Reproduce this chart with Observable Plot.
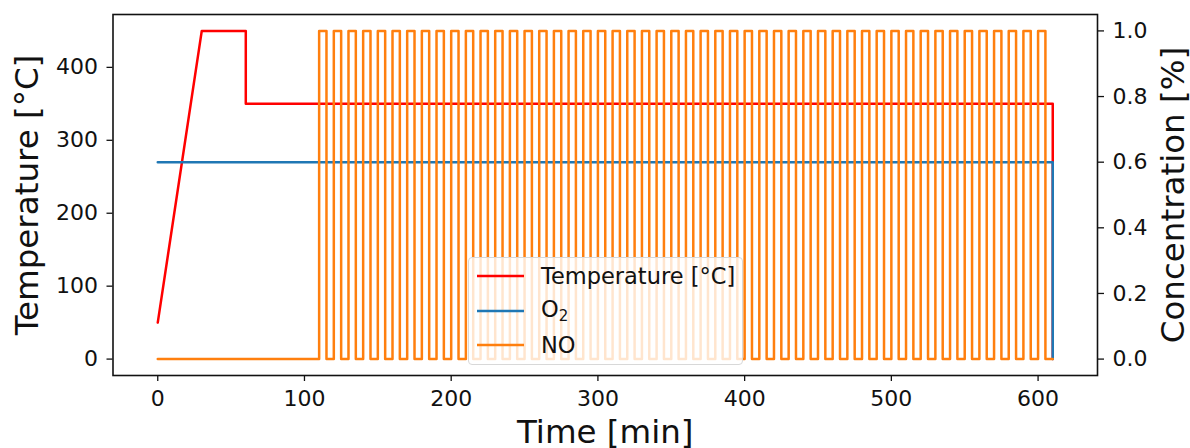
<!DOCTYPE html>
<html>
<head>
<meta charset="utf-8">
<script src="https://cdn.jsdelivr.net/npm/d3@7"></script>
<script src="https://cdn.jsdelivr.net/npm/@observablehq/plot@0.6"></script>
<style>
  html, body { margin: 0; padding: 0; background: white; }
  #wrap { position: relative; width: 1190px; height: 448px; overflow: hidden; font-family: "DejaVu Sans", sans-serif; }
  #legend { position: absolute; left: 468px; top: 257px; width: 275px; height: 108px; box-sizing: border-box;
    background: rgba(255,255,255,0.8); border: 1px solid #d8d8d8; border-radius: 4px; }
  .row { position: absolute; left: 0; height: 30px; display: flex; align-items: center; font-size: 22.5px; color: #111; white-space: nowrap; }
  .row svg { margin-left: 8px; margin-right: 17px; }
</style>
</head>
<body>
<div id="wrap"></div>
<script>
// ---- data ----
const tempTime  = [0, 30, 60, 60, 610, 610];
const tempValue = [50, 450, 450, 350, 350, 0];

const o2Time  = [0, 610, 610];
const o2Value = [0.6, 0.6, 0];

const noStartTime = 0;
const noEndTime = 610;
const noOnTimes  = [110,120,130,140,150,160,170,180,190,200,210,220,230,240,250,260,270,280,290,300,310,320,330,340,350,360,370,380,390,400,410,420,430,440,450,460,470,480,490,500,510,520,530,540,550,560,570,580,590,600];
const noOffTimes = [115,125,135,145,155,165,175,185,195,205,215,225,235,245,255,265,275,285,295,305,315,325,335,345,355,365,375,385,395,405,415,425,435,445,455,465,475,485,495,505,515,525,535,545,555,565,575,585,595,605];
const noHigh = 1;
const noLow = 0;

const xTicks = [0, 100, 200, 300, 400, 500, 600];
const tempTicks = [0, 100, 200, 300, 400];
const concTicks = [0, 0.2, 0.4, 0.6, 0.8, 1.0];

const labels = { x: "Time [min]", yLeft: "Temperature [°C]", yRight: "Concentration [%]" };

// ---- build tables ----
const tempData = tempTime.map((t, i) => ({t, v: tempValue[i]}));
const o2Data = o2Time.map((t, i) => ({t, v: o2Value[i]}));
const noData = [{t: noStartTime, v: noLow}];
noOnTimes.forEach((on, i) => {
  const off = noOffTimes[i];
  noData.push({t: on, v: noLow}, {t: on, v: noHigh}, {t: off, v: noHigh}, {t: off, v: noLow});
});
noData.push({t: noEndTime, v: noLow});

// concentration axis is a twin axis: 0..1 maps onto 0..450 of temperature axis
const CONC = 450;

const colors = { temp: "#ff0000", o2: "#1f77b4", no: "#ff7f0e" };
const lw = 2.5;
const tickFont = 22;
const labelFont = 32.5;

const chart = Plot.plot({
  width: 1190,
  height: 448,
  marginLeft: 112.5,
  marginRight: 93,
  marginTop: 14,
  marginBottom: 73,
  x: { domain: [-30.5, 640.5] },
  y: { domain: [-22.5, 472.5] },
  style: { fontFamily: "DejaVu Sans", fontSize: tickFont + "px", color: "#111", background: "white", overflow: "visible" },
  marks: [
    Plot.line(tempData, { x: "t", y: "v", stroke: colors.temp, strokeWidth: lw }),
    Plot.line(o2Data, { x: "t", y: d => d.v * CONC, stroke: colors.o2, strokeWidth: lw }),
    Plot.line(noData, { x: "t", y: d => d.v * CONC, stroke: colors.no, strokeWidth: lw }),
    Plot.frame({ stroke: "#111", strokeWidth: 1.6 }),
    Plot.axisX(xTicks, { tickSize: 6, tickPadding: 9, label: null, fontSize: tickFont, strokeWidth: 1.3 }),
    Plot.axisY(tempTicks, { anchor: "left", tickSize: 6, tickPadding: 9, label: null, fontSize: tickFont, strokeWidth: 1.3 }),
    Plot.axisY(concTicks.map(c => c * CONC), { anchor: "right", tickSize: 6, tickPadding: 9, label: null, fontSize: tickFont, strokeWidth: 1.3,
      tickFormat: d => (d / CONC).toFixed(1) }),
    Plot.text([labels.yLeft], { frameAnchor: "left", textAnchor: "middle", lineAnchor: "middle", dx: -85, rotate: -90, fontSize: labelFont, fill: "#111" }),
    Plot.text([labels.yRight], { frameAnchor: "right", textAnchor: "middle", lineAnchor: "middle", dx: 76, rotate: -90, fontSize: labelFont, fill: "#111" }),
    Plot.text([labels.x], { frameAnchor: "bottom", textAnchor: "middle", lineAnchor: "middle", dy: 57, fontSize: labelFont, fill: "#111" })
  ]
});

const wrap = document.getElementById("wrap");
wrap.appendChild(chart);

// legend
const legend = document.createElement("div");
legend.id = "legend";
const items = [
  { html: "Temperature [°C]", color: colors.temp },
  { html: "O<sub style='font-size:15px;vertical-align:-4px'>2</sub>", color: colors.o2 },
  { html: "NO", color: colors.no }
];
items.forEach((it, i) => {
  const row = document.createElement("div");
  row.className = "row";
  row.style.top = (3 + i * 34.5) + "px";
  row.innerHTML = `<svg width="47" height="10"><line x1="0" x2="47" y1="5" y2="5" stroke="${it.color}" stroke-width="${lw}"/></svg><span>${it.html}</span>`;
  legend.appendChild(row);
});
wrap.appendChild(legend);
</script>
</body>
</html>
